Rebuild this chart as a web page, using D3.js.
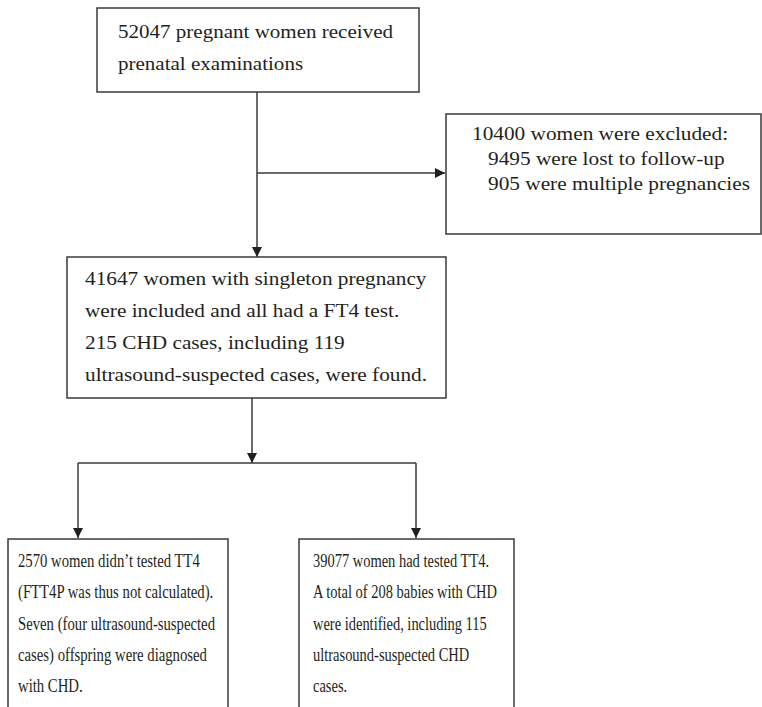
<!DOCTYPE html>
<html>
<head>
<meta charset="utf-8">
<script src="https://cdn.jsdelivr.net/npm/d3@7"></script>
<style>
	body { margin: 0; background: #fff; }
	svg { display: block; }
	.box { fill: none; stroke: #3a3a3a; stroke-width: 1.5; }
	.link { fill: none; stroke: #3a3a3a; stroke-width: 1.5; }
	.label { font-family: "Liberation Serif", "DejaVu Serif", serif; font-size: 19.5px; fill: #231f20; }
</style>
</head>
<body>
<div id="flow"></div>
<script>
// text of each box
var screenedText = ["52047 pregnant women received", "prenatal examinations"];
var excludedText = ["10400 women were excluded:", "   9495 were lost to follow-up", "   905 were multiple pregnancies"];
var includedText = ["41647 women with singleton pregnancy", "were included and all had a FT4 test.", "215 CHD cases, including 119", "ultrasound-suspected cases, were found."];
var noTT4Text = ["2570 women didn\u2019t tested TT4", "(FTT4P was thus not calculated).", "Seven (four ultrasound-suspected", "cases) offspring were diagnosed", "with CHD."];
var tt4Text = ["39077 women had tested TT4.", "A total of 208 babies with CHD", "were identified, including 115", "ultrasound-suspected CHD", "cases."];

var width = 762, height = 707;

// layout of the boxes (pixels)
var boxes = [
	{ id: "screened", lines: screenedText, x0: 97, y0: 8, x1: 419, y1: 92, tx: 118, ty: 38, dy: 32, fit: 275 },
	{ id: "excluded", lines: excludedText, x0: 446, y0: 114, x1: 761, y1: 234, tx: 472, ty: 140, dy: 25, fit: 278 },
	{ id: "included", lines: includedText, x0: 67, y0: 257, x1: 446, y1: 398, tx: 85, ty: 285, dy: 32, fit: 342 },
	{ id: "noTT4", lines: noTT4Text, x0: 8, y0: 539, x1: 228, y1: 720, tx: 18, ty: 567, dy: 31.3, fit: 197 },
	{ id: "tt4", lines: tt4Text, x0: 299, y0: 539, x1: 514, y1: 720, tx: 313, ty: 567, dy: 31.3, fit: 184 }
];

var svg = d3.select("#flow")
	.append("svg")
	.attr("width", width)
	.attr("height", height);

svg.append("defs").append("marker")
	.attr("id", "arrow")
	.attr("viewBox", "0 0 10 10")
	.attr("refX", 10)
	.attr("refY", 5)
	.attr("markerUnits", "userSpaceOnUse")
	.attr("markerWidth", 11)
	.attr("markerHeight", 10)
	.attr("orient", "auto")
	.append("path")
	.attr("d", "M0,0 L10,5 L0,10 Z")
	.style("fill", "#231f20");

// connectors
var links = [
	{ pts: [[257, 92], [257, 257]], arrow: true },
	{ pts: [[257, 173], [445, 173]], arrow: true },
	{ pts: [[252, 398], [252, 463]], arrow: true },
	{ pts: [[78, 463], [416, 463]], arrow: false },
	{ pts: [[78, 463], [78, 538]], arrow: true },
	{ pts: [[416, 463], [416, 538]], arrow: true }
];

var line = d3.line();
svg.selectAll(".link")
	.data(links)
	.enter()
	.append("path")
	.attr("class", "link")
	.attr("d", function (d) { return line(d.pts); })
	.attr("marker-end", function (d) { return d.arrow ? "url(#arrow)" : null; });

var g = svg.selectAll(".node")
	.data(boxes)
	.enter()
	.append("g")
	.attr("class", "node");

g.append("rect")
	.attr("class", "box")
	.attr("x", function (d) { return d.x0; })
	.attr("y", function (d) { return d.y0; })
	.attr("width", function (d) { return d.x1 - d.x0; })
	.attr("height", function (d) { return d.y1 - d.y0; });

g.each(function (d) {
	var node = d3.select(this);
	var texts = node.selectAll(".label")
		.data(d.lines)
		.enter()
		.append("text")
		.attr("class", "label")
		.attr("xml:space", "preserve")
		.attr("x", d.tx)
		.attr("y", function (t, i) { return d.ty + i * d.dy; })
		.text(function (t) { return t; });

	// stretch / squeeze lines so the widest one matches the picture
	var lens = texts.nodes().map(function (n) { return n.getComputedTextLength(); });
	var k = d.fit / d3.max(lens);
	texts.each(function (t, i) {
		d3.select(this)
			.attr("textLength", lens[i] * k)
			.attr("lengthAdjust", "spacingAndGlyphs");
	});
});
</script>
</body>
</html>
